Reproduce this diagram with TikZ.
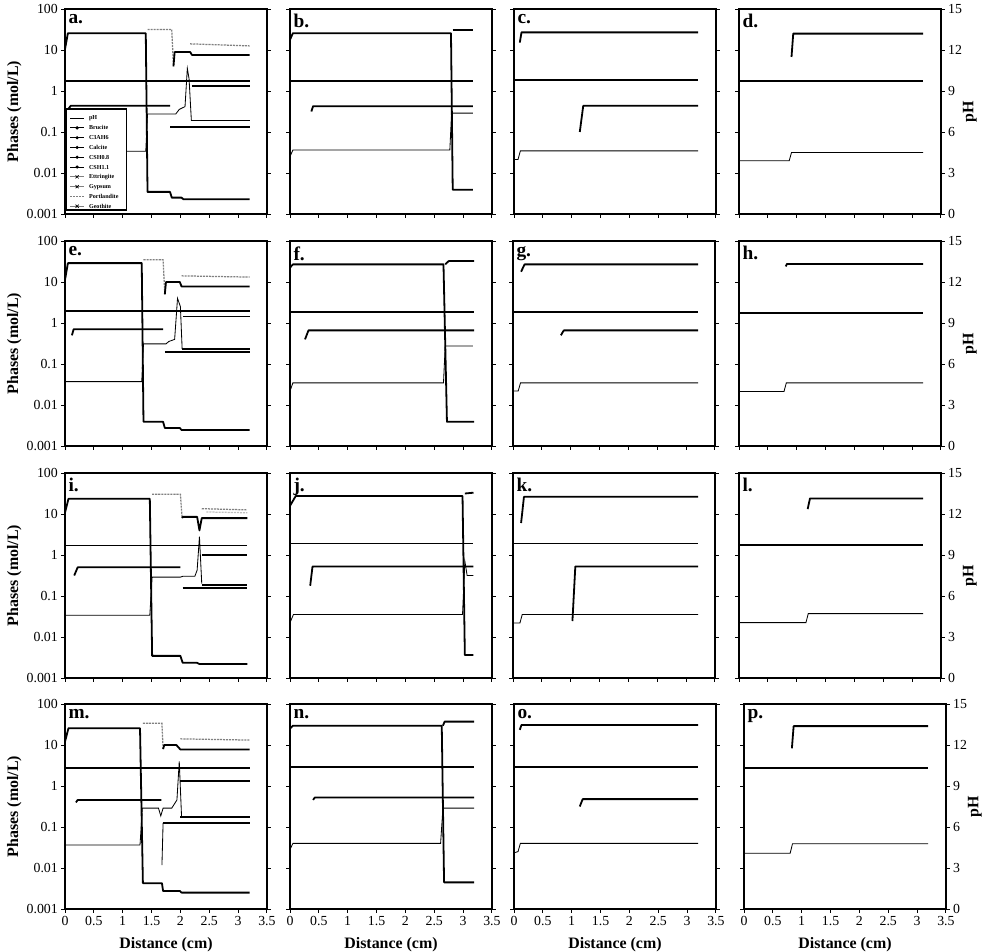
\documentclass[tikz,border=0pt]{standalone}
\usepackage{fontspec}
\setmainfont{Liberation Serif}

% frame, ticks and letter of one panel
\newcommand{\axframe}[1]{%
  \draw[axbox] (0,0) rectangle (3.5,5);
  \foreach \t in {0,...,5} {
    \draw[tick] (0,\t) -- ++(-1.1mm,0);
    \draw[tick] (3.5,\t) -- ++(1.1mm,0);
  }
  \foreach \s in {0,0.5,...,3.5} \draw[tick] (\s,0) -- ++(0,-1.1mm);
  \node[plab, anchor=north west] (lab-#1) at ([shift={(0.3mm,-0.8mm)}]0,5) {#1.};
}
\newcommand{\ynums}[1]{%
  \foreach \t/\v in {0/0.001,1/0.01,2/0.1,3/1,4/10,5/100}
    \node[tlab, anchor=east] (yl-#1-\t) at ([xshift=-1.4mm]0,\t) {\v};
  \node[atitle, rotate=90] (yt-#1) at (-0.88,2.5) {Phases (mol/L)};
}
\newcommand{\phnums}[1]{%
  \foreach \t/\v in {0/0,1/3,2/6,3/9,4/12,5/15}
    \node[tlab, anchor=west] (pl-#1-\t) at ([xshift=1.4mm]3.5,\t) {\v};
  \node[atitle, rotate=90] (pt-#1) at (4.0,2.5) {pH};
}
\newcommand{\xnums}[1]{%
  \foreach \v [count=\k] in {0,0.5,1,1.5,2,2.5,3,3.5}
    \node[tlab, anchor=north] (xl-#1-\k) at ([yshift=-1.5mm]\v,0) {\v};
  \node[atitle] (xt-#1) at (1.75,-0.88) {Distance (cm)};
}

\begin{document}
\begin{tikzpicture}[x=0.254mm, y=-0.254mm,
  axbox/.style={line width=0.9pt},
  tick/.style={line width=0.7pt},
  tlab/.style={font=\fontsize{10}{12}\selectfont, inner sep=1pt},
  atitle/.style={font=\bfseries\fontsize{11.5}{13}\selectfont, inner sep=1pt},
  plab/.style={font=\bfseries\fontsize{14}{15}\selectfont, inner sep=1.5pt},
  phase/.style={line width=1.3pt, line join=round},
  phline/.style={line width=0.6pt},
  portl/.style={gray, line width=0.9pt, dash pattern=on 1.5pt off 0.7pt},
  legtxt/.style={font=\bfseries\fontsize{4.4}{5}\selectfont, inner sep=0.5pt, anchor=west}]
\useasboundingbox (0,0) rectangle (985,952);

%% row 1
\begin{scope}[shift={(65,214)}, x=14.656mm, y=10.414mm]
  \axframe{a} \ynums{a}
  \draw[phase] (0,4.02) -- (0.05,4.41) -- (1.40,4.41) -- (1.43,0.54) -- (1.82,0.54) -- (1.85,0.40) -- (2.02,0.40) -- (2.05,0.36) -- (3.2,0.36);
  \draw[portl] (1.43,4.5) -- (1.85,4.5) -- (1.88,3.6);
  \draw[phase] (1.88,3.6) -- (1.9,3.95) -- (2.17,3.95) -- (2.2,3.88) -- (3.2,3.88);
  \draw[portl] (2.17,4.15) -- (3.2,4.1);
  \draw[phase] (0,3.25) -- (3.2,3.25);
  \draw[phase] (2.2,3.13) -- (3.2,3.13);
  \draw[phase] (0.05,2.55) -- (0.1,2.64) -- (1.82,2.64);
  \draw[phline] (0,1.53) -- (1.40,1.53) -- (1.43,2.44) -- (1.92,2.44) -- (1.98,2.55) -- (2.08,2.62) -- (2.12,3.55) -- (2.15,3.3) -- (2.19,2.28);
  \draw[phase] (2.19,2.28) -- (3.2,2.28);
  \draw[phase] (1.82,2.13) -- (3.2,2.13);
  % legend
  \draw[line width=0.9pt, fill=white] (0.02,0.1) rectangle (1.07,2.56);
  \draw[phline] (0.09,2.34) -- (0.33,2.34);
  \node[legtxt] (leg-0) at (0.40,2.34) {pH};
  \foreach \nm [count=\k] in {Brucite,C3AH6,Calcite,CSH0.8,CSH1.1} {
    \draw[phline] (0.09,2.34-0.239*\k) -- (0.33,2.34-0.239*\k);
    \fill (0.21,2.34-0.239*\k) circle (0.45mm);
    \node[legtxt] (leg-\k) at (0.40,2.34-0.239*\k) {\nm};
  }
  \foreach \nm/\k in {Ettringite/6,Gypsum/7,Geothite/9} {
    \draw[phline, gray] (0.09,2.34-0.239*\k) -- (0.33,2.34-0.239*\k);
    \draw[line width=0.5pt] (0.21,2.34-0.239*\k) ++(-0.4mm,-0.4mm) -- ++(0.8mm,0.8mm) ++(0,-0.8mm) -- ++(-0.8mm,0.8mm);
    \node[legtxt] (leg-\k) at (0.40,2.34-0.239*\k) {\nm};
  }
  \draw[portl, line width=0.5pt] (0.09,0.428) -- (0.33,0.428);
  \node[legtxt] (leg-8) at (0.40,0.428) {Portlandite};
\end{scope}

\begin{scope}[shift={(290,214)}, x=14.656mm, y=10.414mm]
  \axframe{b}
  \draw[phase] (0,4.25) -- (0.05,4.41) -- (2.79,4.41) -- (2.82,0.59) -- (3.17,0.59);
  \draw[phase] (2.82,4.49) -- (3.17,4.49);
  \draw[phase] (0,3.25) -- (3.17,3.25);
  \draw[phase] (0.37,2.5) -- (0.40,2.63) -- (3.17,2.63);
  \draw[phline] (0,1.4) -- (0.05,1.56) -- (2.77,1.56) -- (2.80,2.46) -- (3.17,2.46);
\end{scope}

\begin{scope}[shift={(514,214)}, x=14.656mm, y=10.414mm]
  \axframe{c}
  \draw[phase] (0.10,4.18) -- (0.13,4.43) -- (3.19,4.43);
  \draw[phase] (0,3.26) -- (3.19,3.26);
  \draw[phase] (1.14,2.0) -- (1.2,2.64) -- (3.19,2.64);
  \draw[phline] (0,1.33) -- (0.07,1.33) -- (0.11,1.54) -- (3.19,1.54);
\end{scope}

\begin{scope}[shift={(739,214)}, x=14.656mm, y=10.414mm]
  \axframe{d} \phnums{d}
  \draw[phase] (0.91,3.83) -- (0.94,4.4) -- (3.19,4.4);
  \draw[phase] (0,3.25) -- (3.19,3.25);
  \draw[phline] (0,1.3) -- (0.87,1.3) -- (0.91,1.5) -- (3.19,1.5);
\end{scope}

%% row 2
\begin{scope}[shift={(65,446)}, x=14.656mm, y=10.414mm]
  \axframe{e} \ynums{e}
  \draw[phase] (0,4.05) -- (0.05,4.46) -- (1.33,4.46) -- (1.36,0.59) -- (1.70,0.59) -- (1.73,0.44) -- (1.99,0.44) -- (2.02,0.39) -- (3.2,0.39);
  \draw[portl] (1.36,4.54) -- (1.70,4.54) -- (1.73,3.7);
  \draw[phase] (1.73,3.7) -- (1.75,4.0) -- (1.99,4.0) -- (2.02,3.89) -- (3.2,3.89);
  \draw[portl] (2.02,4.15) -- (3.2,4.12);
  \draw[phase] (0,3.3) -- (3.2,3.3);
  \draw[phase] (2.05,3.16) -- (3.2,3.16);
  \draw[phase] (0.12,2.7) -- (0.15,2.85) -- (1.70,2.85);
  \draw[phline] (0,1.57) -- (1.33,1.57) -- (1.36,2.49) -- (1.75,2.49) -- (1.80,2.55) -- (1.90,2.6) -- (1.95,3.6) -- (2.0,3.4) -- (2.03,2.37);
  \draw[phase] (1.73,2.3) -- (3.2,2.3);
  \draw[phase] (2.03,2.37) -- (3.2,2.37);
\end{scope}

\begin{scope}[shift={(290,446)}, x=14.656mm, y=10.414mm]
  \axframe{f}
  \draw[phase] (0,4.35) -- (0.05,4.43) -- (2.66,4.43) -- (2.72,0.59) -- (3.19,0.59);
  \draw[phase] (2.69,4.43) -- (2.75,4.51) -- (3.19,4.51);
  \draw[phase] (0,3.27) -- (3.19,3.27);
  \draw[phase] (0.26,2.6) -- (0.32,2.82) -- (3.19,2.82);
  \draw[phline] (0,1.34) -- (0.05,1.54) -- (2.66,1.54) -- (2.69,2.44) -- (3.17,2.44);
\end{scope}

\begin{scope}[shift={(513,446)}, x=14.656mm, y=10.414mm]
  \axframe{g}
  \draw[phase] (0.14,4.25) -- (0.2,4.43) -- (3.21,4.43);
  \draw[phase] (0,3.27) -- (3.21,3.27);
  \draw[phase] (0.83,2.7) -- (0.88,2.82) -- (3.21,2.82);
  \draw[phline] (0,1.34) -- (0.09,1.34) -- (0.13,1.54) -- (3.21,1.54);
\end{scope}

\begin{scope}[shift={(739,446)}, x=14.656mm, y=10.414mm]
  \axframe{h} \phnums{h}
  \draw[phase] (0.81,4.38) -- (0.83,4.44) -- (3.19,4.44);
  \draw[phase] (0,3.25) -- (3.19,3.25);
  \draw[phline] (0,1.33) -- (0.78,1.33) -- (0.82,1.54) -- (3.19,1.54);
\end{scope}

%% row 3
\begin{scope}[shift={(65,678)}, x=14.656mm, y=10.414mm]
  \axframe{i} \ynums{i}
  \draw[phase] (0,4.03) -- (0.06,4.37) -- (1.47,4.37) -- (1.51,0.54) -- (2.0,0.54) -- (2.04,0.37) -- (2.29,0.37) -- (2.33,0.34) -- (3.16,0.34);
  \draw[portl] (1.51,4.48) -- (2.0,4.48) -- (2.03,3.9);
  \draw[phase] (2.03,3.9) -- (2.04,3.93) -- (2.29,3.93) -- (2.33,3.6) -- (2.37,3.9) -- (3.16,3.9);
  \draw[portl] (2.37,4.13) -- (3.16,4.1);
  \draw[portl, gray!50] (2.45,4.05) -- (3.16,4.03);
  \draw[phase] (0,3.23) -- (3.16,3.23);
  \draw[phase] (2.37,3.0) -- (3.16,3.0);
  \draw[phase] (0.16,2.5) -- (0.22,2.7) -- (2.0,2.7);
  \draw[phline] (0,1.53) -- (1.47,1.53) -- (1.51,2.46) -- (2.0,2.46) -- (2.04,2.48) -- (2.25,2.48) -- (2.29,2.63) -- (2.33,3.45) -- (2.37,2.3);
  \draw[phase] (2.37,2.27) -- (3.16,2.27);
  \draw[phase] (2.04,2.19) -- (3.16,2.19);
\end{scope}

\begin{scope}[shift={(290,678)}, x=14.656mm, y=10.414mm]
  \axframe{j}
  \draw[phase] (0,4.2) -- (0.1,4.44) -- (2.99,4.44) -- (3.03,0.56) -- (3.18,0.56);
  \draw[phase] (3.03,4.5) -- (3.18,4.52);
  \draw[phase] (0,3.28) -- (3.18,3.28);
  \draw[phase] (0.35,2.25) -- (0.39,2.72) -- (3.18,2.72);
  \draw[phline] (0,1.35) -- (0.06,1.55) -- (2.99,1.55) -- (3.03,2.85) -- (3.07,2.5) -- (3.18,2.5);
\end{scope}

\begin{scope}[shift={(513,678)}, x=14.656mm, y=10.414mm]
  \axframe{k}
  \draw[phase] (0.14,3.78) -- (0.19,4.42) -- (3.21,4.42);
  \draw[phase] (0,3.28) -- (3.21,3.28);
  \draw[phase] (1.03,1.39) -- (1.08,2.72) -- (3.21,2.72);
  \draw[phline] (0,1.34) -- (0.12,1.34) -- (0.16,1.55) -- (3.21,1.55);
\end{scope}

\begin{scope}[shift={(739,678)}, x=14.656mm, y=10.414mm]
  \axframe{l} \phnums{l}
  \draw[phase] (1.19,4.12) -- (1.23,4.38) -- (3.19,4.38);
  \draw[phase] (0,3.25) -- (3.19,3.25);
  \draw[phline] (0,1.35) -- (1.16,1.35) -- (1.2,1.57) -- (3.19,1.57);
\end{scope}

%% row 4
\begin{scope}[shift={(65,909)}, x=14.656mm, y=10.414mm]
  \axframe{m} \ynums{m} \xnums{m}
  \draw[phase] (0,4.08) -- (0.06,4.41) -- (1.30,4.41) -- (1.35,0.63) -- (1.68,0.63) -- (1.70,0.44) -- (1.99,0.44) -- (2.02,0.40) -- (3.2,0.40);
  \draw[portl] (1.35,4.53) -- (1.68,4.53) -- (1.70,3.9);
  \draw[phase] (1.70,3.9) -- (1.72,4.0) -- (1.93,4.0) -- (2.0,3.89) -- (3.2,3.89);
  \draw[portl] (2.0,4.15) -- (3.2,4.12);
  \draw[phase] (0,3.43) -- (3.2,3.43);
  \draw[phase] (2.0,3.13) -- (3.2,3.13);
  \draw[phase] (0.19,2.6) -- (0.22,2.66) -- (1.67,2.66);
  \draw[phline] (0,1.56) -- (1.30,1.56) -- (1.34,2.46) -- (1.62,2.46) -- (1.66,2.27) -- (1.70,2.46) -- (1.85,2.46) -- (1.94,2.66) -- (1.98,3.6) -- (2.02,2.25);
  \draw[phase] (2.0,2.25) -- (3.2,2.25);
  \draw[phline] (1.68,1.07) -- (1.70,2.1);
  \draw[phase] (1.70,2.1) -- (3.2,2.1);
\end{scope}

\begin{scope}[shift={(290,909)}, x=14.656mm, y=10.414mm]
  \axframe{n} \xnums{n}
  \draw[phase] (0,4.4) -- (0.05,4.47) -- (2.63,4.47) -- (2.67,0.65) -- (3.19,0.65);
  \draw[phase] (2.65,4.47) -- (2.68,4.57) -- (3.19,4.57);
  \draw[phase] (0,3.47) -- (3.19,3.47);
  \draw[phase] (0.40,2.66) -- (0.43,2.72) -- (3.19,2.72);
  \draw[phline] (0,1.45) -- (0.05,1.6) -- (2.61,1.6) -- (2.65,2.46) -- (3.19,2.46);
\end{scope}

\begin{scope}[shift={(514,909)}, x=14.656mm, y=10.414mm]
  \axframe{o} \xnums{o}
  \draw[phase] (0.1,4.37) -- (0.13,4.49) -- (3.19,4.49);
  \draw[phase] (0,3.47) -- (3.19,3.47);
  \draw[phase] (1.14,2.5) -- (1.19,2.68) -- (3.19,2.68);
  \draw[phline] (0,1.37) -- (0.07,1.4) -- (0.11,1.6) -- (3.19,1.6);
\end{scope}

\begin{scope}[shift={(744,909)}, x=14.656mm, y=10.414mm]
  \axframe{p} \phnums{p} \xnums{p}
  \draw[phase] (0.83,3.92) -- (0.86,4.46) -- (3.19,4.46);
  \draw[phase] (0,3.43) -- (3.19,3.43);
  \draw[phline] (0,1.36) -- (0.8,1.36) -- (0.84,1.59) -- (3.19,1.59);
\end{scope}

\end{tikzpicture}
\end{document}
